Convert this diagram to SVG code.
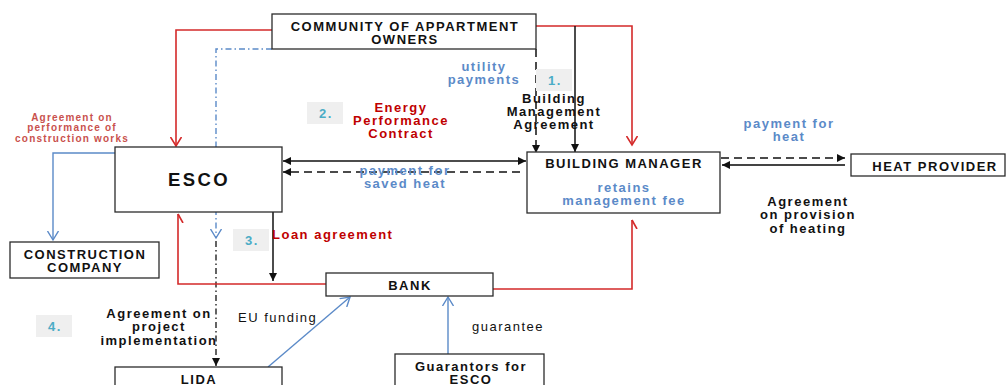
<svg xmlns="http://www.w3.org/2000/svg" width="1007" height="385" viewBox="0 0 1007 385">
<style>
.box{fill:#fff;stroke:#2b2b2b;stroke-width:1.3}
.t{font-family:"Liberation Sans",Arial,sans-serif;font-weight:bold;font-size:13px;letter-spacing:1.5px;text-anchor:middle;fill:#111}
.n{font-weight:normal}
.blue{fill:#5b8ac8}
.red{fill:#c00000}
.num{fill:#4bacc6}
.nb{fill:#efefef;stroke:none}
.lk{fill:none;stroke:#111;stroke-width:1.5}
.lr{fill:none;stroke:#d42a2a;stroke-width:1.6}
.lb{fill:none;stroke:#5b8ac8;stroke-width:1.4}
.dash{stroke-dasharray:8 5}
.dd{stroke-dasharray:6 3 1.5 3}
</style>
<defs>
<marker id="ak" markerUnits="userSpaceOnUse" markerWidth="10" markerHeight="10" refX="8" refY="4" orient="auto"><path d="M0,0 L8,4 L0,8 z" fill="#111"/></marker>
<marker id="aks" markerUnits="userSpaceOnUse" markerWidth="10" markerHeight="10" refX="8" refY="4" orient="auto-start-reverse"><path d="M0,0 L8,4 L0,8 z" fill="#111"/></marker>
<marker id="ar" markerUnits="userSpaceOnUse" markerWidth="12" markerHeight="12" refX="9" refY="6" orient="auto"><path d="M0,0.5 L9,6 L0,11.5" fill="none" stroke="#d42a2a" stroke-width="1.6"/></marker>
<marker id="arh" markerUnits="userSpaceOnUse" markerWidth="12" markerHeight="12" refX="9" refY="1" orient="auto"><path d="M9,1 L0,6" fill="none" stroke="#d42a2a" stroke-width="1.6"/></marker>
<marker id="ab" markerUnits="userSpaceOnUse" markerWidth="12" markerHeight="12" refX="9" refY="6" orient="auto"><path d="M0,0.5 L9,6 L0,11.5" fill="none" stroke="#5b8ac8" stroke-width="1.4"/></marker>
</defs>

<g id="connectors">
<path class="lr" d="M272,30 H176 V146" marker-end="url(#ar)"/>
<path class="lr" d="M536,26 H632 V145" marker-end="url(#ar)"/>
<path class="lk" d="M575,26 V152" marker-end="url(#ak)"/>
<path class="lk dash" d="M536,49 V153" marker-end="url(#ak)"/>
<path class="lb dd" d="M272,49 H216 V238" marker-end="url(#ab)"/>
<path class="lk dd" d="M216,241 V366" marker-end="url(#ak)" style="stroke-width:1.3"/>
<path class="lk" d="M283,161 H526" marker-start="url(#aks)" marker-end="url(#ak)"/>
<path class="lk dash" d="M520,172 H283" marker-end="url(#ak)"/>
<path class="lb" d="M115,153 H53 V240" marker-end="url(#ab)"/>
<path class="lk" d="M273,212 V281" marker-end="url(#ak)"/>
<path class="lr" d="M326,284 H178 V214" marker-end="url(#arh)"/>
<path class="lr" d="M493,289 H632 V220" marker-end="url(#arh)"/>
<path class="lk dash" d="M721,158 H845" marker-end="url(#ak)"/>
<path class="lk" d="M845,165 H722" marker-end="url(#ak)" style="stroke:#444;stroke-width:2"/>
<path class="lb" d="M268,367 L350,297" marker-end="url(#ab)"/>
<path class="lb" d="M448,354 V297" marker-end="url(#ab)"/>
</g>

<g id="community">
<rect class="box" x="272" y="14" width="264" height="35"/>
<text class="t" x="405" y="30.5">COMMUNITY OF APPARTMENT</text>
<text class="t" x="405" y="43.5">OWNERS</text>
</g>
<g id="esco">
<rect class="box" x="115" y="147" width="167" height="65"/>
<text class="t" x="199" y="186" style="font-size:18.5px;letter-spacing:2.4px">ESCO</text>
</g>
<g id="building-manager">
<rect class="box" x="527" y="152" width="193" height="61"/>
<text class="t" x="624" y="167.5">BUILDING MANAGER</text>
<text class="t blue" x="624" y="191.5">retains</text>
<text class="t blue" x="624" y="204.5">management fee</text>
</g>
<g id="heat-provider">
<rect class="box" x="851" y="154" width="154" height="22"/>
<text class="t" x="935" y="170.5">HEAT PROVIDER</text>
</g>
<g id="construction-company">
<rect class="box" x="10" y="242" width="149" height="36"/>
<text class="t" x="85" y="258.5">CONSTRUCTION</text>
<text class="t" x="85" y="271.5">COMPANY</text>
</g>
<g id="bank">
<rect class="box" x="326" y="273" width="167" height="23"/>
<text class="t" x="410" y="289.5">BANK</text>
</g>
<g id="lida">
<rect class="box" x="115" y="367" width="167" height="30"/>
<text class="t" x="199" y="383.5">LIDA</text>
</g>
<g id="guarantors">
<rect class="box" x="395" y="354" width="149" height="40"/>
<text class="t" x="471" y="370.5">Guarantors for</text>
<text class="t" x="471" y="383.5">ESCO</text>
</g>

<g id="labels">
<text class="t blue" x="484" y="71">utility</text>
<text class="t blue" x="484" y="84">payments</text>
<rect class="nb" x="536" y="69" width="36" height="22"/>
<text class="t num" x="555" y="84.5">1.</text>
<text class="t" x="554" y="102.5">Building</text>
<text class="t" x="554" y="115.5">Management</text>
<text class="t" x="554" y="128.5">Agreement</text>
<rect class="nb" x="307" y="102" width="36" height="22"/>
<text class="t num" x="326" y="117.5">2.</text>
<text class="t red" x="401" y="111.5">Energy</text>
<text class="t red" x="401" y="124.5">Performance</text>
<text class="t red" x="401" y="137.5">Contract</text>
<text class="t" x="72" y="120.5" style="font-size:10px;letter-spacing:1.2px;fill:#c9514d">Agreement on</text>
<text class="t" x="72" y="131" style="font-size:10px;letter-spacing:1.2px;fill:#c9514d">performance of</text>
<text class="t" x="72" y="141.5" style="font-size:10px;letter-spacing:1.2px;fill:#c9514d">construction works</text>
<text class="t blue" x="405" y="175">payment for</text>
<text class="t blue" x="405" y="188">saved heat</text>
<text class="t blue" x="789" y="127.5">payment for</text>
<text class="t blue" x="789" y="140.5">heat</text>
<text class="t" x="808" y="205.5">Agreement</text>
<text class="t" x="808" y="218.5">on provision</text>
<text class="t" x="808" y="232.5">of heating</text>
<rect class="nb" x="233" y="229" width="36" height="22"/>
<text class="t num" x="252" y="244.5">3.</text>
<text class="t red" x="272" y="238.5" style="text-anchor:start">Loan agreement</text>
<rect class="nb" x="36" y="315" width="36" height="22"/>
<text class="t num" x="55" y="330.5">4.</text>
<text class="t" x="159" y="318">Agreement on</text>
<text class="t" x="159" y="331">project</text>
<text class="t" x="159" y="344.5">implementation</text>
<text class="t n" x="238" y="321.5" style="text-anchor:start">EU funding</text>
<text class="t n" x="508" y="330.5">guarantee</text>
</g>
</svg>
